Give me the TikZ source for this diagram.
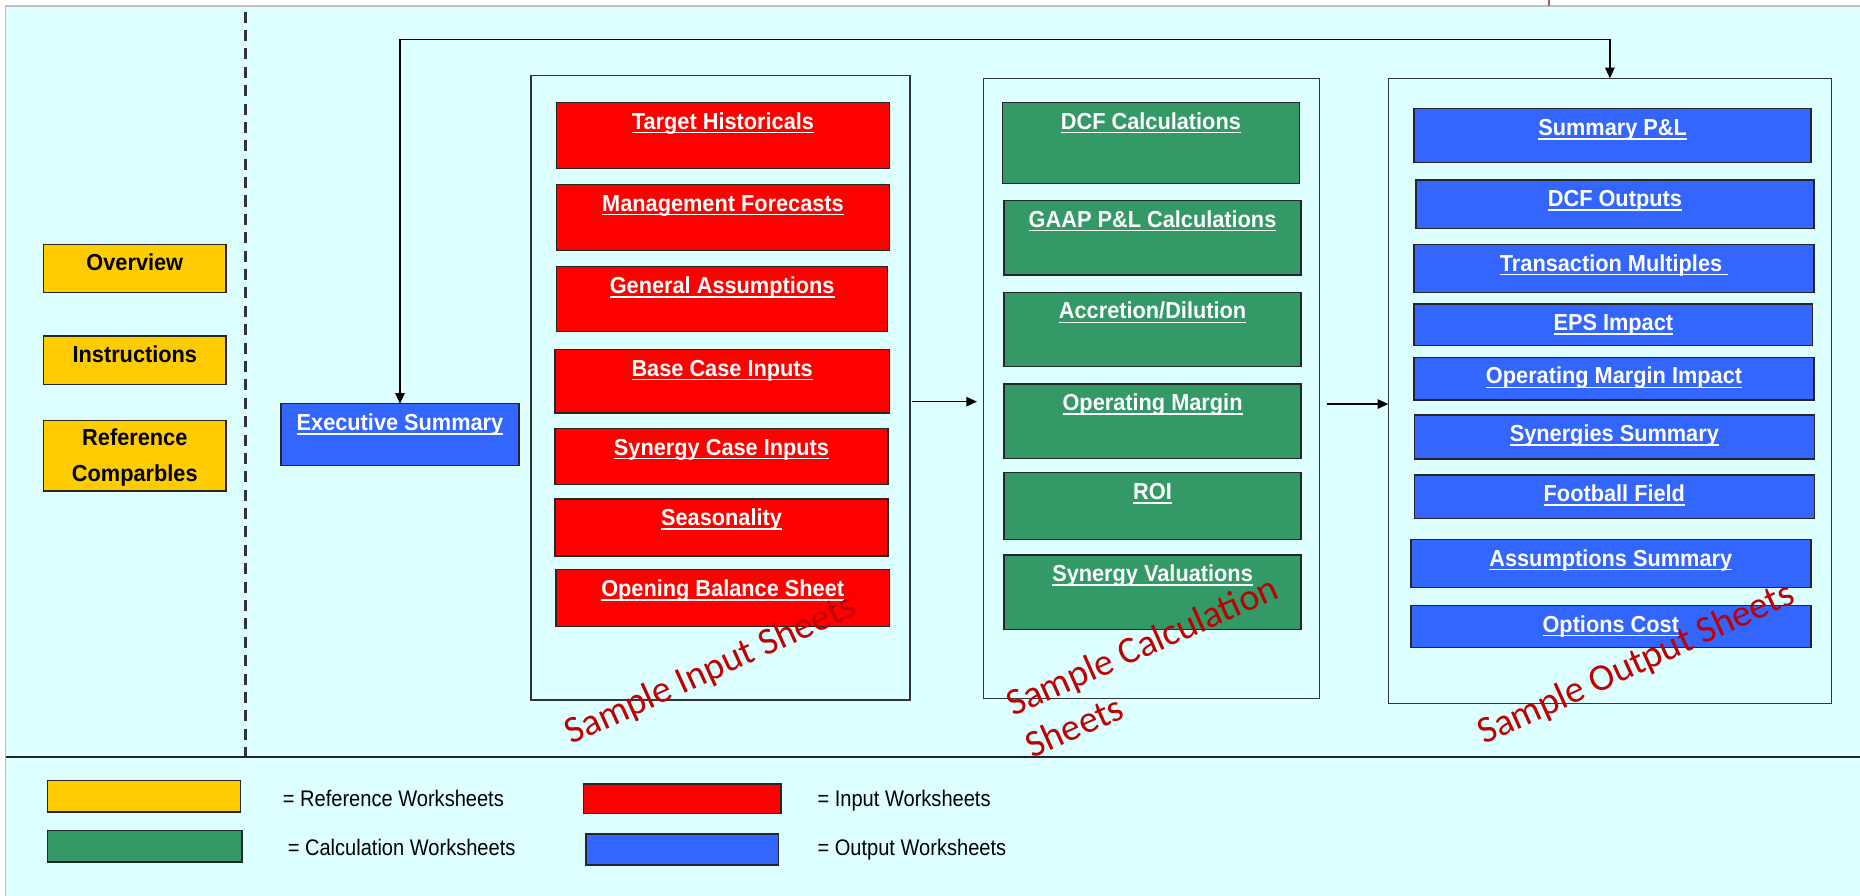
\documentclass[tikz,border=0pt]{standalone}
\usepackage{fontspec}
\setmainfont{Liberation Sans}
\newfontfamily\lblfont[FakeStretch=0.94]{Liberation Sans}
\newfontfamily\legfont[FakeStretch=0.89]{Liberation Sans}
\newfontfamily\wmfont{Carlito}
\usetikzlibrary{arrows.meta,calc}
\definecolor{bgc}{HTML}{DDFFFF}
\definecolor{refy}{HTML}{FFCC00}
\definecolor{inr}{HTML}{FF0000}
\definecolor{calg}{HTML}{339966}
\definecolor{outb}{HTML}{3366FF}
\definecolor{wmred}{HTML}{C00000}
\newcommand\ulink[1]{\setbox0\hbox{#1}\rlap{\rule[-3.6pt]{\wd0}{1.3pt}}\box0}
\newcommand\sheet[7]{%
  \node[#2, minimum width={(#5)-(#3)}, minimum height={(#6)-(#4)}, anchor=north west] (#1) at (#3,#4) {};
  \node[lbl, anchor=base] (#1-t) at ($(#1.north)+(0,22.5)$) {\ulink{#7}};
}
\tikzset{
  sheetbase/.style={draw=black!85, line width=1.3pt, inner sep=0pt, outer sep=0pt},
  refbox/.style={sheetbase, fill=refy},
  inbox/.style={sheetbase, fill=inr},
  calbox/.style={sheetbase, fill=calg},
  outbox/.style={sheetbase, fill=outb},
  grp/.style={draw=black!80, line width=1.2pt, inner sep=0pt, outer sep=0pt},
  lbl/.style={font={\lblfont\bfseries\fontsize{19.5}{22}\selectfont}, text=white, inner sep=0pt},
  reflbl/.style={lbl, text=black},
  leg/.style={font={\legfont\fontsize{19}{22}\selectfont}, text=black, inner sep=0pt, anchor=base west},
  wm/.style={font={\wmfont\fontsize{32}{39}\selectfont}, text=wmred, inner sep=0pt, anchor=base west},
  conn/.style={draw=black, line width=1.2pt},
  tip/.tip={Triangle[length=9pt,width=8pt]}
}
\begin{document}
\begin{tikzpicture}[x=1pt,y=-1pt]
\useasboundingbox (0,0) rectangle (1568,755);
% background
\fill[white] (0,0) rectangle (1568,755);
\fill[bgc] (4.7,5) rectangle (1568,755);
\draw[black!25, line width=1pt] (4.7,755) -- (4.7,5) -- (1568,5);
\draw[black!70!red!60, line width=1.5pt] (1306,0) -- (1306,5);
% dividers
\draw[black!80, line width=2.5pt, dash pattern=on 9.3pt off 6.2pt] (207.3,9.8) -- (207.3,637);
\draw[black!85, line width=2.2pt] (4.7,638.3) -- (1568,638.3);

% reference sheets
\node[refbox, minimum width=153.9, minimum height=40.7, anchor=north west] (ov) at (36.7,206) {};
\node[reflbl, anchor=base] (ov-t) at ($(ov.north)+(0,21.8)$) {Overview};
\node[refbox, minimum width=153.9, minimum height=40.7, anchor=north west] (ins) at (36.7,283.3) {};
\node[reflbl, anchor=base] (ins-t) at ($(ins.north)+(0,22.2)$) {Instructions};
\node[refbox, minimum width=153.9, minimum height=59.6, anchor=north west] (rc) at (36.7,354.3) {};
\node[reflbl, anchor=base] (rc-t1) at ($(rc.north)+(0,21.4)$) {Reference};
\node[reflbl, anchor=base] (rc-t2) at ($(rc.north)+(0,51.7)$) {Comparbles};

% executive summary
\sheet{exec}{outbox}{236.9}{340.3}{437.5}{392.3}{Executive Summary}

% group boxes
\node[grp, minimum width=319.6, minimum height=526.6, anchor=north west] (ingrp) at (447.7,63.5) {};
\node[grp, minimum width=283.2, minimum height=522.7, anchor=north west] (calcgrp) at (829.3,66) {};
\node[grp, minimum width=373.7, minimum height=527, anchor=north west] (outgrp) at (1170.3,66) {};

% input sheets
\sheet{th}{inbox}{469.3}{86.3}{749.7}{142.2}{Target Historicals}
\sheet{mf}{inbox}{469.3}{155.4}{749.7}{211.3}{Management Forecasts}
\sheet{ga}{inbox}{469.3}{224.8}{748.3}{279.6}{General Assumptions}
\sheet{bc}{inbox}{467.9}{294.5}{749.7}{348}{Base Case Inputs}
\sheet{sc}{inbox}{468}{361.1}{748.5}{408.3}{Synergy Case Inputs}
\sheet{se}{inbox}{468}{420.7}{748.5}{468.5}{Seasonality}
\sheet{ob}{inbox}{468.8}{480.2}{749.7}{528.3}{Opening Balance Sheet}

% calculation sheets
\sheet{dcf}{calbox}{845}{86.3}{1095.4}{154.6}{DCF Calculations}
\sheet{gaap}{calbox}{846.4}{168.9}{1096.8}{231.8}{GAAP P\&L Calculations}
\sheet{acc}{calbox}{846.4}{246.4}{1096.8}{309.1}{Accretion/Dilution}
\sheet{om}{calbox}{846.4}{323.5}{1096.8}{386.4}{Operating Margin}
\sheet{roi}{calbox}{846.4}{398.5}{1096.8}{454.7}{ROI}
\sheet{sv}{calbox}{846.4}{467.9}{1096.8}{530.5}{Synergy Valuations}

% output sheets
\sheet{spl}{outbox}{1192.1}{91.6}{1526.8}{136.8}{Summary P\&L}
\sheet{dcfo}{outbox}{1193.5}{151.7}{1529.2}{192.5}{DCF Outputs}
\sheet{tm}{outbox}{1192.1}{206}{1529.2}{246.7}{Transaction Multiples\ }
\sheet{eps}{outbox}{1192.1}{256.3}{1528}{291.4}{EPS Impact}
\sheet{omi}{outbox}{1192.1}{301.2}{1529.2}{337}{Operating Margin Impact}
\sheet{ss}{outbox}{1192.3}{349.9}{1529.5}{387}{Synergies Summary}
\sheet{ff}{outbox}{1192.3}{400.4}{1529.5}{437}{Football Field}
\sheet{asu}{outbox}{1189.3}{454.7}{1526.5}{495.4}{Assumptions Summary}
\sheet{oc}{outbox}{1189.3}{510.3}{1526.5}{545.7}{Options Cost}

% connectors
\coordinate (toprail) at (0,33.2);
\coordinate (a1) at (0,338.6);
\coordinate (a2) at (0,340.6);
\draw[conn, tip-tip] (exec.north) |- (outgrp.north |- toprail) -- (outgrp.north);
\draw[conn, -tip, shorten <=1.7pt, shorten >=5.7pt] (ingrp.east |- a1) -- (calcgrp.west |- a1);
\draw[conn, -tip, shorten <=6pt] (calcgrp.east |- a2) -- (outgrp.west |- a2);

% watermarks
\node[wm, rotate=24.5] (wmin) at (481.7,628) {Sample Input Sheets};
\node[wm, rotate=24] (wmc1) at (854,604.2) {Sample Calculation};
\node[wm, rotate=24] (wmc2) at (870.5,639.8) {Sheets};
\node[wm, rotate=24.5] (wmout) at (1251,628) {Sample Output Sheets};

% legend
\node[refbox, minimum width=162.6, minimum height=26.4, anchor=north west] (legy) at (40.2,658.1) {};
\node[inbox, minimum width=166.2, minimum height=24.7, anchor=north west] (legr) at (492,661) {};
\node[calbox, minimum width=163.8, minimum height=26.4, anchor=north west] (legg) at (40.2,700.3) {};
\node[outbox, minimum width=162.6, minimum height=26.1, anchor=north west] (legb) at (493.8,703.1) {};
\node[leg] (legy-t) at (238.3,679.5) {= Reference Worksheets};
\node[leg] (legr-t) at (689,679.5) {= Input Worksheets};
\node[leg] (legg-t) at (242.4,721.6) {= Calculation Worksheets};
\node[leg] (legb-t) at (689,721.6) {= Output Worksheets};
\end{tikzpicture}
\end{document}
